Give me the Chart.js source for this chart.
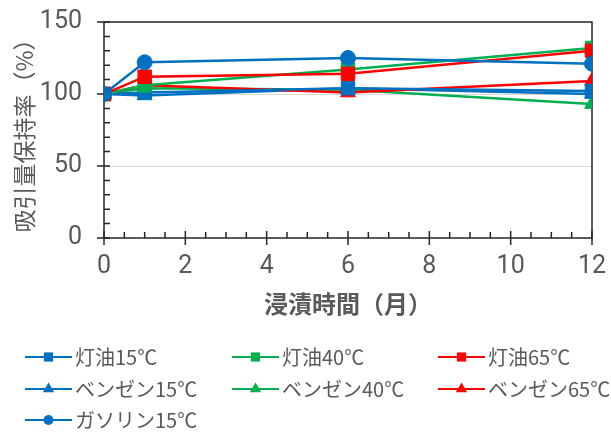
<!DOCTYPE html>
<html>
<head>
<meta charset="utf-8">
<script src="https://cdn.jsdelivr.net/npm/chart.js@4"></script>
<style>
  body { margin: 0; background: #fff; }
  #chart { display: block; }
</style>
</head>
<body>
<canvas id="chart" width="611" height="437"></canvas>
<script>
// データ
const months = [0, 1, 6, 12];
const kerosene15 = [100, 101, 104, 102];
const kerosene40 = [100, 106, 117, 132];
const kerosene65 = [100, 112, 114, 130];
const benzene15 = [100, 99, 104, 100];
const benzene40 = [100, 104, 103, 93];
const benzene65 = [100, 106, 101, 109];
const gasoline15 = [100, 122, 125, 121];

const xTicks = [0, 2, 4, 6, 8, 10, 12];
const yTicks = [0, 50, 100, 150];

const BLUE = "#0070C0";
const GREEN = "#00B050";
const RED = "#FF0000";
const GREY = "#595959";
const AXIS = "#262626";
const CJK = "'Noto Sans CJK JP', sans-serif";
const NUM = "Roboto, 'Noto Sans CJK JP', sans-serif";

const toXY = (vals) => vals.map((v, i) => ({ x: months[i], y: v }));

const makeSet = (label, vals, color, style, order) => ({
  label,
  data: toXY(vals),
  borderColor: color,
  backgroundColor: color,
  pointBackgroundColor: color,
  pointBorderColor: color,
  borderWidth: 2.5,
  pointStyle: style,
  pointRadius: style === "rect" ? 9.5 : style === "triangle" ? 8.5 : 7.5,
  pointBorderWidth: 1,
  order,
});

// 凡例の並び（3列）
const datasets = [
  makeSet("灯油15℃", kerosene15, BLUE, "rect", 3),
  makeSet("灯油40℃", kerosene40, GREEN, "rect", 2),
  makeSet("灯油65℃", kerosene65, RED, "rect", 1),
  makeSet("ベンゼン15℃", benzene15, BLUE, "triangle", 6),
  makeSet("ベンゼン40℃", benzene40, GREEN, "triangle", 5),
  makeSet("ベンゼン65℃", benzene65, RED, "triangle", 4),
  makeSet("ガソリン15℃", gasoline15, BLUE, "circle", 0),
];

// 枠と目盛り線
const frameTicks = {
  id: "frameTicks",
  beforeDatasetsDraw(chart) {
    const { ctx, chartArea: a, scales } = chart;
    const xs = scales.x;
    const ys = scales.y;
    ctx.save();
    ctx.strokeStyle = AXIS;
    ctx.lineWidth = 1.5;
    ctx.strokeRect(a.left, a.top, a.right - a.left, a.bottom - a.top);
    ctx.beginPath();
    for (let v = 0; v <= 12.001; v += 0.5) {
      const px = xs.getPixelForValue(v);
      if (v % 2 === 0) {
        ctx.moveTo(px, a.bottom - 7);
        ctx.lineTo(px, a.bottom + 7);
      } else {
        ctx.moveTo(px, a.bottom - 6);
        ctx.lineTo(px, a.bottom);
      }
    }
    for (let v = 0; v <= 150; v += 10) {
      const py = ys.getPixelForValue(v);
      if (v % 50 === 0) {
        ctx.moveTo(a.left - 7, py);
        ctx.lineTo(a.left + 6, py);
      } else {
        ctx.moveTo(a.left, py);
        ctx.lineTo(a.left + 6, py);
      }
    }
    ctx.stroke();
    ctx.restore();
  },
};

// 凡例
const gridLegend = {
  id: "gridLegend",
  afterDraw(chart) {
    const { ctx } = chart;
    const colX = [25, 232, 438];
    const rowY = [357, 389, 420];
    ctx.save();
    chart.data.datasets.forEach((ds, i) => {
      const x0 = colX[i % 3];
      const y0 = rowY[Math.floor(i / 3)];
      ctx.strokeStyle = ds.borderColor;
      ctx.lineWidth = 2;
      ctx.beginPath();
      ctx.moveTo(x0, y0);
      ctx.lineTo(x0 + 47, y0);
      ctx.stroke();
      ctx.fillStyle = ds.borderColor;
      Chart.helpers.drawPoint(
        ctx,
        { pointStyle: ds.pointStyle, radius: ds.pointStyle === "circle" ? 5 : 6.5, borderWidth: 0 },
        x0 + 23.5,
        y0
      );
      ctx.fillStyle = GREY;
      ctx.font = "20px " + CJK;
      ctx.textBaseline = "middle";
      ctx.fillText(ds.label, x0 + 50, y0);
    });
    ctx.restore();
  },
};

new Chart(document.getElementById("chart"), {
  type: "line",
  data: { datasets },
  plugins: [frameTicks, gridLegend],
  options: {
    responsive: false,
    animation: false,
    devicePixelRatio: 1,
    layout: { padding: { top: 22, right: 19, bottom: 119, left: 0 } },
    plugins: { legend: { display: false }, tooltip: { enabled: false } },
    scales: {
      x: {
        type: "linear",
        min: 0,
        max: 12,
        afterFit: (s) => {
          s.height = 80;
          s.paddingLeft = 0;
          s.paddingRight = 0;
        },
        afterBuildTicks: (s) => { s.ticks = xTicks.map((v) => ({ value: v })); },
        grid: { color: "transparent", drawTicks: false },
        border: { display: false },
        ticks: { color: GREY, font: { family: NUM, size: 25 }, padding: 14, maxRotation: 0 },
        title: {
          display: true,
          text: "浸漬時間（月）",
          color: GREY,
          font: { family: CJK, size: 24, weight: "bold" },
          padding: { top: 0, bottom: 0 },
        },
      },
      y: {
        min: 0,
        max: 150,
        afterFit: (s) => {
          s.width = 104;
          s.paddingTop = 0;
          s.paddingBottom = 0;
        },
        afterBuildTicks: (s) => { s.ticks = yTicks.map((v) => ({ value: v })); },
        grid: {
          color: (c) => (c.tick && (c.tick.value === 50 || c.tick.value === 100) ? "#d9d9d9" : "transparent"),
          drawTicks: false,
        },
        border: { display: false },
        ticks: { color: GREY, font: { family: NUM, size: 25 }, padding: 22 },
        title: {
          display: true,
          text: "吸引量保持率（%）",
          color: GREY,
          font: { family: CJK, size: 23 },
          padding: { top: 10, bottom: 0 },
        },
      },
    },
  },
});
</script>
</body>
</html>
